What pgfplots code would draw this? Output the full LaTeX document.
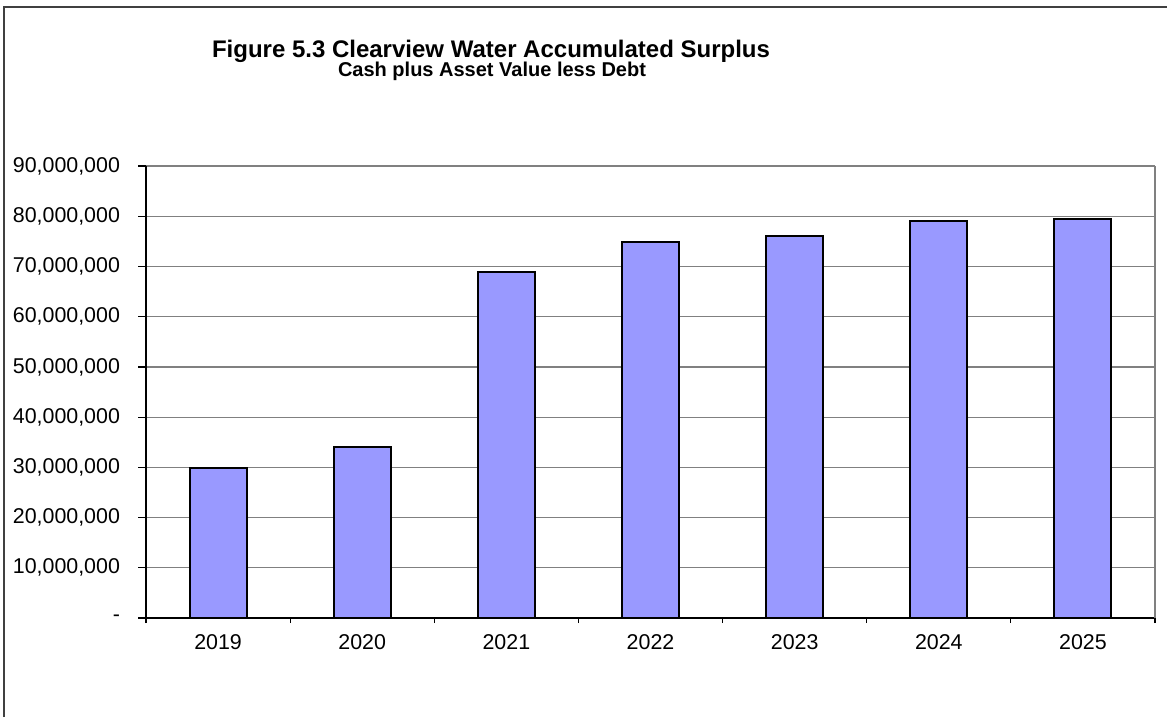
\documentclass[border=0pt]{standalone}
\usepackage{pgfplots}
\pgfplotsset{compat=1.18}
\usepackage{fontspec}
\setmainfont{Liberation Sans}
\definecolor{barblue}{HTML}{9999FF}
\definecolor{gridgray}{HTML}{808080}
\pgfplotstableread{
x year value
0 2019 29800000
1 2020 34100000
2 2021 68800000
3 2022 74900000
4 2023 76000000
5 2024 79100000
6 2025 79500000
}\surplus
\begin{document}
\begin{tikzpicture}[x=0.5bp,y=-0.5bp]
\path[use as bounding box] (0,0) rectangle (1167,717);
\draw[line width=0.6bp, black!75] (4,717) -- (4,7) -- (1167,7);
\node[anchor=base, inner sep=0pt, font=\bfseries\fontsize{12bp}{14bp}\selectfont] at (491,57) {Figure 5.3 Clearview Water Accumulated Surplus};
\node[anchor=base, inner sep=0pt, font=\bfseries\fontsize{10bp}{12bp}\selectfont] at (492,76) {Cash plus Asset Value less Debt};
\begin{axis}[
  at={(73bp,-309bp)}, anchor=south west,
  scale only axis, width=504.5bp, height=226bp,
  xmin=-0.5, xmax=6.5, ymin=0, ymax=90000000,
  axis lines=left, axis line style={-, black, line width=0.6bp},
  xtick={0,...,6},
  xticklabels={2019,2020,2021,2022,2023,2024,2025},
  minor xtick={-0.5,0.5,...,6.5},
  tick align=outside,
  major tick length=0pt,
  minor tick length=2.5bp,
  ytick={0,10000000,...,90000000},
  yticklabels={-,{10,000,000},{20,000,000},{30,000,000},{40,000,000},{50,000,000},{60,000,000},{70,000,000},{80,000,000},{90,000,000}},
  extra y ticks={0,10000000,...,90000000},
  extra y tick labels={},
  extra y tick style={major tick length=4bp, grid=none},
  ymajorgrids,
  major grid style={gridgray, line width=0.6bp},
  every tick/.style={black, line width=0.6bp},
  tick label style={font=\fontsize{10.7bp}{12bp}\selectfont},
  yticklabel style={xshift=-9.5bp},
  xticklabel style={yshift=-4.5bp},
  scaled y ticks=false,
  clip=false,
]
\addplot[ybar, bar width=28.5bp, fill=barblue, draw=black, line width=1bp] table[x=x, y=value] {\surplus};
\draw[gridgray, line width=0.6bp] (axis cs:6.5,0) -- (axis cs:6.5,90000000);
\end{axis}
\end{tikzpicture}
\end{document}
